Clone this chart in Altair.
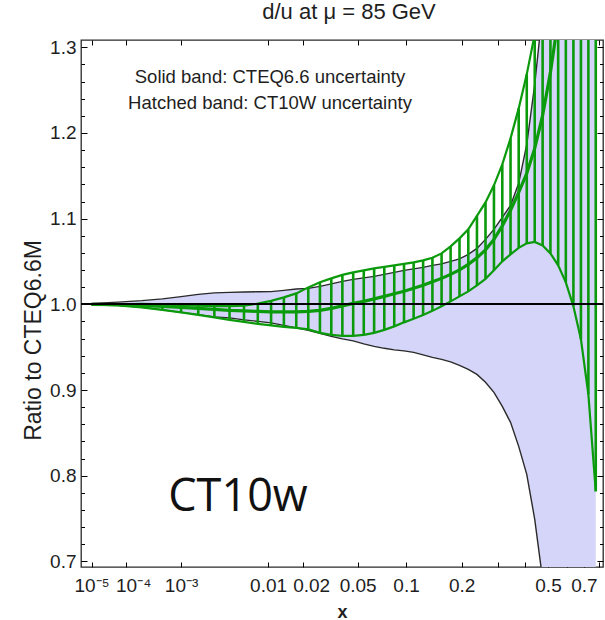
import altair as alt
import pandas as pd

# ---------------- data ----------------
X_GRID = [1e-05, 6.4e-05, 0.000216, 0.000512, 0.001, 0.001728, 0.002744, 0.004096, 0.005832, 0.008,
          0.010648, 0.013824, 0.017576, 0.021952, 0.027, 0.032768, 0.039304, 0.046656, 0.054872, 0.064,
          0.074088, 0.085184, 0.097336, 0.110592, 0.125, 0.140608, 0.157464, 0.175616, 0.195112, 0.216,
          0.238328, 0.262144, 0.287496, 0.314432, 0.343, 0.373248, 0.405224, 0.438976, 0.474552, 0.512,
          0.551368, 0.592704, 0.636056, 0.681472, 0.729, 0.778688]

CTEQ66_HI = [1.0012, 1.0026, 1.0043, 1.0064, 1.0090, 1.0117, 1.0134, 1.0140, 1.0144, 1.0147,
             1.0149, 1.0163, 1.0179, 1.0187, 1.0210, 1.0239, 1.0268, 1.0292, 1.0309, 1.0327,
             1.0350, 1.0373, 1.0397, 1.0414, 1.0432, 1.0455, 1.0473, 1.0502, 1.0531, 1.0583,
             1.0653, 1.0758, 1.0875, 1.1015, 1.1155, 1.1412, 1.1867, 1.2567, 1.3442, 1.45,
             1.55, 1.65, 1.75, 1.85, 1.95, 2.05]

CTEQ66_LO = [0.9994, 0.9988, 0.9965, 0.9936, 0.9907, 0.9880, 0.9854, 0.9842, 0.9819, 0.9802,
             0.9784, 0.9755, 0.9726, 0.9697, 0.9662, 0.9627, 0.9597, 0.9574, 0.9539, 0.9510,
             0.9487, 0.9469, 0.9457, 0.9440, 0.9411, 0.9382, 0.9358, 0.9329, 0.9288, 0.9242,
             0.9183, 0.9090, 0.8973, 0.8810, 0.8623, 0.8343, 0.8016, 0.7491, 0.6791, 0.60,
             0.50, 0.40, 0.30, 0.20, 0.10, 0.0]

CT10W_HI = [1.0, 1.0, 1.0005, 1.0, 0.9990, 0.9984, 0.9980, 0.9980, 0.9984, 1.0008,
            1.0041, 1.0082, 1.0128, 1.0198, 1.0257, 1.0303, 1.0344, 1.0373, 1.0397, 1.0420,
            1.0438, 1.0455, 1.0473, 1.0490, 1.0513, 1.0543, 1.0595, 1.0677, 1.0770, 1.0875,
            1.1033, 1.1190, 1.1389, 1.1634, 1.1937, 1.2287, 1.2684, 1.3151, 1.37, 1.45,
            1.55, 1.65, 1.75, 1.85, 1.95, 2.05]

CT10W_MID = [1.0, 0.9996, 0.9988, 0.9977, 0.9965, 0.9953, 0.9942, 0.9930, 0.9924, 0.9918,
             0.9912, 0.9912, 0.9912, 0.9918, 0.9930, 0.9953, 0.9982, 1.0012, 1.0035, 1.0064,
             1.0093, 1.0123, 1.0152, 1.0187, 1.0222, 1.0263, 1.0303, 1.0350, 1.0403, 1.0467,
             1.0543, 1.0636, 1.0758, 1.0916, 1.1097, 1.1307, 1.1529, 1.1820, 1.2205, 1.2707,
             1.3326, 1.42, 1.52, 1.62, 1.72, 1.82]

CT10W_LO = [1.0, 0.9988, 0.9965, 0.9936, 0.9907, 0.9877, 0.9848, 0.9819, 0.9796, 0.9772,
            0.9755, 0.9737, 0.9726, 0.9708, 0.9667, 0.9644, 0.9632, 0.9632, 0.9644, 0.9667,
            0.9702, 0.9743, 0.9790, 0.9831, 0.9877, 0.9924, 0.9977, 1.0035, 1.0093, 1.0152,
            1.0222, 1.0298, 1.0397, 1.0502, 1.0583, 1.0659, 1.0712, 1.0729, 1.0688, 1.0595,
            1.0455, 1.0257, 0.9977, 0.9592, 0.8950, 0.7818]

X_LABELS_AT = [1e-5, 1e-4, 1e-3, 0.01, 0.02, 0.05, 0.1, 0.2, 0.5, 0.7]
X_TICKS_AT = [1e-5, 1e-4, 1e-3, 0.01, 0.02, 0.05, 0.1, 0.2, 0.3, 0.4, 0.5, 0.6, 0.7, 0.8]
Y_MAJOR = [0.7, 0.8, 0.9, 1.0, 1.1, 1.2, 1.3]
Y_MINOR = [0.72, 0.74, 0.76, 0.78, 0.82, 0.84, 0.86, 0.88, 0.92, 0.94, 0.96, 0.98,
           1.02, 1.04, 1.06, 1.08, 1.12, 1.14, 1.16, 1.18, 1.22, 1.24, 1.26, 1.28]

TITLE = "d/u at \u03bc = 85 GeV"
NOTE_1 = "Solid band: CTEQ6.6 uncertainty"
NOTE_2 = "Hatched band: CT10W uncertainty"
BIG_LABEL = "CT10w"

df = pd.DataFrame({
    "x": X_GRID,
    "cteq_lo": CTEQ66_LO,
    "cteq_hi": CTEQ66_HI,
    "ct_lo": CT10W_LO,
    "ct_mid": CT10W_MID,
    "ct_hi": CT10W_HI,
})

# ---------------- style ----------------
FONT = "Liberation Sans"
GREEN = "#0b9a0b"
BLUE_FILL = "#d5d5fa"
DARK = "#2a2a2a"
TXT = "#1e1e1e"

xscale = alt.Scale(type="pow", exponent=0.2, domain=[3.77e-6, 0.83], nice=False, zero=False)
yscale = alt.Scale(domain=[0.6935, 1.3085], nice=False, zero=False)


def tick_axis(orient, values, size):
    return alt.Axis(orient=orient, values=values, tickSize=size, offset=-size,
                    labels=False, domain=False, grid=False, ticks=True, title=None,
                    tickColor="black", tickWidth=1)


label_x = alt.Axis(
    orient="bottom", values=X_LABELS_AT,
    labelExpr=("datum.value < 0.000015 ? '10\u207b\u2075' : datum.value < 0.00015 ? '10\u207b\u2074' : "
               "datum.value < 0.0015 ? '10\u207b\u00b3' : format(datum.value, '.2~f')"),
    labelOffset={"condition": [
        {"test": "datum.value > 0.00005 && datum.value < 0.0005", "value": 7},
        {"test": "datum.value > 0.015 && datum.value < 0.03", "value": 8},
    ], "value": 0},
    ticks=False, domain=False, grid=False, title="x",
    labelFont=FONT, labelFontSize=19, labelColor=TXT, labelPadding=9,
    labelFlush=False, labelOverlap=False,
    titleFont=FONT, titleFontSize=18, titleFontWeight="bold", titleColor=TXT, titlePadding=8,
)
label_y = alt.Axis(
    orient="left", values=Y_MAJOR, format=".1f",
    ticks=False, domain=False, grid=False, title="Ratio to CTEQ6.6M",
    labelFont=FONT, labelFontSize=19, labelColor=TXT, labelPadding=5,
    labelFlush=False, labelOverlap=False,
    titleFont=FONT, titleFontSize=23, titleFontWeight="normal", titleColor=TXT,
    titleX=-48, titleY=300, titleBaseline="middle", titleAlign="center", titleAngle=270,
)

base = alt.Chart(df)

band = base.mark_area(color=BLUE_FILL, opacity=1, clip=True).encode(
    x=alt.X("x:Q", scale=xscale, axis=label_x),
    y=alt.Y("cteq_lo:Q", scale=yscale, axis=label_y),
    y2="cteq_hi:Q",
)

cteq_lo_line = base.mark_line(color=DARK, strokeWidth=1.4, clip=True).encode(
    x=alt.X("x:Q", scale=xscale, axis=tick_axis("bottom", X_TICKS_AT, 5)),
    y=alt.Y("cteq_lo:Q", scale=yscale, axis=tick_axis("left", Y_MAJOR, 6)),
)
cteq_hi_line = base.mark_line(color=DARK, strokeWidth=1.4, clip=True).encode(
    x=alt.X("x:Q", scale=xscale, axis=tick_axis("top", X_TICKS_AT, 5)),
    y=alt.Y("cteq_hi:Q", scale=yscale, axis=tick_axis("right", Y_MAJOR, 6)),
)

hatch = base.mark_rule(color=GREEN, strokeWidth=2.6, clip=True).encode(
    x=alt.X("x:Q", scale=xscale, axis=None),
    y=alt.Y("ct_lo:Q", scale=yscale, axis=None),
    y2="ct_hi:Q",
)

ct_lo_line = base.mark_line(color=GREEN, strokeWidth=2.2, clip=True).encode(
    x=alt.X("x:Q", scale=xscale, axis=None),
    y=alt.Y("ct_lo:Q", scale=yscale, axis=tick_axis("left", Y_MINOR, 3.5)),
)
ct_hi_line = base.mark_line(color=GREEN, strokeWidth=2.2, clip=True).encode(
    x=alt.X("x:Q", scale=xscale, axis=None),
    y=alt.Y("ct_hi:Q", scale=yscale, axis=tick_axis("right", Y_MINOR, 3.5)),
)
ct_mid_line = base.mark_line(color=GREEN, strokeWidth=3.2, clip=True).encode(
    x=alt.X("x:Q", scale=xscale, axis=None),
    y=alt.Y("ct_mid:Q", scale=yscale, axis=None),
)

one_line = base.mark_rule(color="black", strokeWidth=1.3).encode(
    y=alt.Y(datum=1.0, scale=yscale, axis=None),
)

note1 = alt.Chart(pd.DataFrame({"t": [NOTE_1]})).mark_text(
    font=FONT, fontSize=18.5, color=TXT, align="center", baseline="middle"
).encode(text="t:N", x=alt.value(189), y=alt.value(37))
note2 = alt.Chart(pd.DataFrame({"t": [NOTE_2]})).mark_text(
    font=FONT, fontSize=18.5, color=TXT, align="center", baseline="middle"
).encode(text="t:N", x=alt.value(189), y=alt.value(63))
big = alt.Chart(pd.DataFrame({"t": [BIG_LABEL]})).mark_text(
    font="Open Sans", fontSize=45, color="#111111", align="center", baseline="middle"
).encode(text="t:N", x=alt.value(157), y=alt.value(457))

chart = alt.layer(
    band, cteq_lo_line, cteq_hi_line, hatch, ct_lo_line, ct_hi_line, ct_mid_line,
    one_line, note1, note2, big,
).resolve_axis(
    x="independent", y="independent"
).properties(
    width=522, height=527,
    padding={"left": 81, "top": 40, "right": 2, "bottom": 53},
    autosize=alt.AutoSizeParams(type="none"),
    title=alt.TitleParams(TITLE, font=FONT, fontSize=22, fontWeight="normal",
                          color=TXT, anchor="middle", offset=14, dx=7),
    background="white",
).configure_view(
    stroke=DARK, strokeWidth=1.3
)

chart.save("out.html", embed_options={"renderer": "svg", "actions": False})
